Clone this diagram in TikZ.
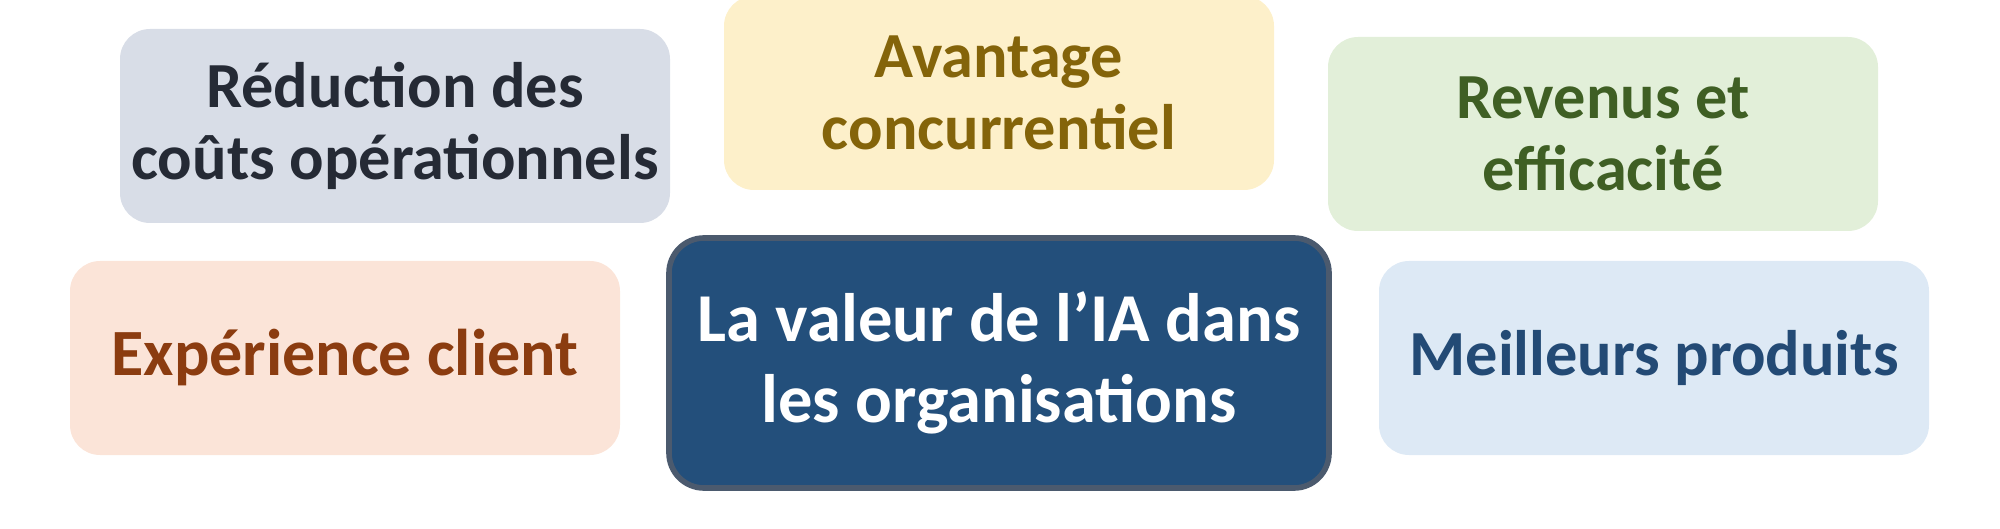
\documentclass[tikz,border=0pt]{standalone}
\usepackage{fontspec}
\setmainfont{Carlito}

\definecolor{costfill}{HTML}{D8DDE7}
\definecolor{costtext}{HTML}{252A35}
\definecolor{edgefill}{HTML}{FDF0CA}
\definecolor{edgetext}{HTML}{84640A}
\definecolor{revfill}{HTML}{E2EFD9}
\definecolor{revtext}{HTML}{3F5F24}
\definecolor{clientfill}{HTML}{FBE4D8}
\definecolor{clienttext}{HTML}{8B3C10}
\definecolor{prodfill}{HTML}{DDE9F5}
\definecolor{prodtext}{HTML}{234A75}
\definecolor{valuefill}{HTML}{234F7B}
\definecolor{valueline}{HTML}{4B5A6E}

\begin{document}
\begin{tikzpicture}[font=\bfseries\fontsize{18.3}{20.3}\selectfont,
		card/.style={rounded corners=0.3cm, minimum width=5.5cm, minimum height=1.94cm, align=center, inner sep=0pt},
		hub/.style={rounded corners=0.35cm, minimum width=6.6cm, minimum height=2.5cm, align=center, inner sep=0pt,
			line width=1.6pt, font=\bfseries\fontsize{19.5}{23}\selectfont}]
		\useasboundingbox (0,0) rectangle (20,5.28);
		
		\node[card, fill=costfill, text=costtext] (cost) at (3.95, 4.02) {Réduction des\\coûts opérationnels};
		\node[card, fill=edgefill, text=edgetext] (edge) at (9.99, 4.35) {Avantage\\concurrentiel};
		\node[card, fill=revfill, text=revtext] (revenue) at (16.03, 3.94) {Revenus et\\efficacité};
		
		\node[card, fill=clientfill, text=clienttext, font=\bfseries\fontsize{18.8}{21}\selectfont] (client) at (3.45, 1.70) {Expérience client};
		\node[hub, fill=valuefill, draw=valueline, text=white] (value) at (9.99, 1.65) {La valeur de l’IA dans\\les organisations};
		\node[card, fill=prodfill, text=prodtext] (product) at (16.54, 1.70) {Meilleurs produits};
	\end{tikzpicture}
\end{document}
